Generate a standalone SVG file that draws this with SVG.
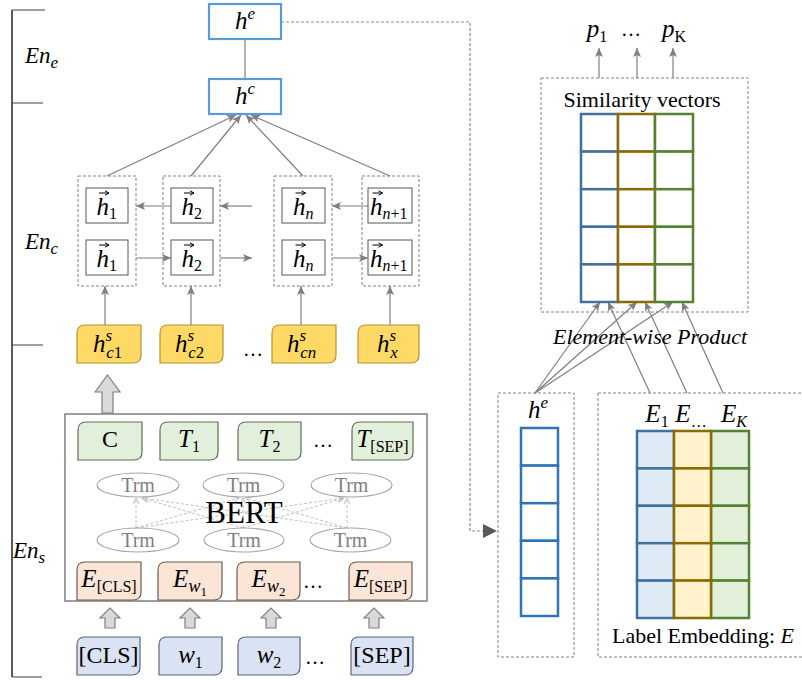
<svg xmlns="http://www.w3.org/2000/svg" width="802" height="680" viewBox="0 0 802 680">
<style>
text{font-family:"Liberation Serif","Times New Roman",serif;fill:#000}
.mi{font-style:italic;font-size:25px}
.m24{font-style:italic;font-size:25px}
.r24{font-size:24px}
.sub{font-size:16px}
.subr{font-size:16px;font-style:normal}
.trm{font-size:20px;fill:#808080}
.dbox{fill:none;stroke:#808080;stroke-width:1;stroke-dasharray:3,2}
.vbox{fill:#fff;stroke:#5B9BD5;stroke-width:2.2}
.ibox{fill:#fff;stroke:#595959;stroke-width:1}
.hs{fill:#FFD966;stroke:#B8922E;stroke-width:1.2}
.gr{fill:#E2EFDA;stroke:#5E6E55;stroke-width:1.2}
.or{fill:#FBE5D6;stroke:#6E5A50;stroke-width:1.2}
.bl{fill:#DAE3F3;stroke:#5A6478;stroke-width:1.2}
.ell{fill:#fff;stroke:#A6A6A6;stroke-width:1.2}
.conn{fill:none;stroke:#7F7F7F;stroke-width:1.2}
.tl{fill:none;stroke:#C0C0C0;stroke-width:1;stroke-dasharray:3,2}
.blk{fill:#D9D9D9;stroke:#7F7F7F;stroke-width:1.2}
.cb{stroke:#2E75B6;stroke-width:2.5}
.cg{stroke:#8B6B00;stroke-width:2.5}
.cn{stroke:#548235;stroke-width:2.5}
.cbl{stroke:#41719C;stroke-width:2.5}
</style>
<defs>
<marker id="ag" markerWidth="9" markerHeight="8" refX="9" refY="4" orient="auto" markerUnits="userSpaceOnUse"><path d="M0,0 L9,4 L0,8 L2,4 z" fill="#7F7F7F"/></marker>
<marker id="al" markerWidth="7" markerHeight="7" refX="6" refY="3.5" orient="auto" markerUnits="userSpaceOnUse"><path d="M0,0.5 L6,3.5 L0,6.5" fill="none" stroke="#C0C0C0" stroke-width="1"/></marker>
<marker id="ad" markerWidth="14" markerHeight="14" refX="14" refY="7" orient="auto" markerUnits="userSpaceOnUse"><path d="M0,0 L14,7 L0,14 z" fill="#595959"/></marker>
<path id="acc" d="M0,3 H10 M6,0.8 L10,3 L6,5.2" fill="none" stroke="#000" stroke-width="1"/>
<path id="upS" d="M-10,10 L0,0 L10,10 L5,10 L5,20 L-5,20 L-5,10 Z"/>
</defs>

<g id="scale">
<path d="M12,10 V677" stroke="#000" stroke-width="1.3" fill="none"/>
<path d="M12,10 H45 M12,103 H43 M12,345 H43 M12,677 H42" stroke="#404040" stroke-width="1.2" fill="none"/>
<text x="25" y="63" font-style="italic" font-size="23">En<tspan font-size="17" dy="5">e</tspan></text>
<text x="25" y="249" font-style="italic" font-size="23">En<tspan font-size="17" dy="5">c</tspan></text>
<text x="13" y="558" font-style="italic" font-size="23">En<tspan font-size="17" dy="5">s</tspan></text>
</g>

<g id="connectors">
<path class="conn" d="M245,39 V79"/>
<path class="conn" d="M107,176 L236,115" marker-end="url(#ag)"/>
<path class="conn" d="M191,176 L241,115" marker-end="url(#ag)"/>
<path class="conn" d="M303,176 L246,115" marker-end="url(#ag)"/>
<path class="conn" d="M390,176 L251,115" marker-end="url(#ag)"/>
<path class="conn" d="M171,206 H136" marker-end="url(#ag)"/>
<path class="conn" d="M252,206 H220" marker-end="url(#ag)"/>
<path class="conn" d="M368,206 H332" marker-end="url(#ag)"/>
<path class="conn" d="M136,258 H171" marker-end="url(#ag)"/>
<path class="conn" d="M220,258 H252" marker-end="url(#ag)"/>
<path class="conn" d="M332,258 H368" marker-end="url(#ag)"/>
<path class="conn" d="M105,325 V286" marker-end="url(#ag)"/>
<path class="conn" d="M191,325 V286" marker-end="url(#ag)"/>
<path class="conn" d="M301,325 V286" marker-end="url(#ag)"/>
<path class="conn" d="M390,325 V286" marker-end="url(#ag)"/>
<path d="M281,22 H470 V531 H497" fill="none" stroke="#8C8C8C" stroke-width="1.2" stroke-dasharray="3,2" marker-end="url(#ad)"/>
<path class="conn" d="M599,78 V48" marker-end="url(#ag)"/>
<path class="conn" d="M637,78 V48" marker-end="url(#ag)"/>
<path class="conn" d="M673,78 V48" marker-end="url(#ag)"/>
<path class="conn" stroke-width="1" d="M535,393 L600,302" marker-end="url(#ag)"/>
<path class="conn" stroke-width="1" d="M535,393 L637,302" marker-end="url(#ag)"/>
<path class="conn" stroke-width="1" d="M535,393 L673,302" marker-end="url(#ag)"/>
<path class="conn" stroke-width="1" d="M650,393 L608,302" marker-end="url(#ag)"/>
<path class="conn" stroke-width="1" d="M687,393 L645,302" marker-end="url(#ag)"/>
<path class="conn" stroke-width="1" d="M723,393 L682,302" marker-end="url(#ag)"/>
</g>

<g id="he"><rect class="vbox" x="209" y="4" width="72" height="35"/><text x="245" y="29" text-anchor="middle" class="m24">h<tspan font-size="17" dy="-10">e</tspan></text></g>
<g id="hc"><rect class="vbox" x="209" y="79" width="72" height="35"/><text x="245" y="104" text-anchor="middle" class="m24">h<tspan font-size="17" dy="-10">c</tspan></text></g>

<g id="lstm1">
<rect class="dbox" x="78" y="176" width="58" height="110"/>
<rect class="ibox" x="86" y="188" width="42" height="35"/><rect class="ibox" x="86" y="240" width="42" height="35"/>
<text x="96.5" y="215" class="mi">h<tspan class="sub" font-style="normal" dy="4">1</tspan></text><use href="#acc" x="99" y="190"/>
<text x="96.5" y="267" class="mi">h<tspan class="sub" font-style="normal" dy="4">1</tspan></text><use href="#acc" x="99" y="242"/>
</g>
<g id="lstm2">
<rect class="dbox" x="163" y="176" width="57" height="110"/>
<rect class="ibox" x="171" y="188" width="42" height="35"/><rect class="ibox" x="171" y="240" width="42" height="35"/>
<text x="181.5" y="215" class="mi">h<tspan class="sub" font-style="normal" dy="4">2</tspan></text><use href="#acc" x="184" y="190"/>
<text x="181.5" y="267" class="mi">h<tspan class="sub" font-style="normal" dy="4">2</tspan></text><use href="#acc" x="184" y="242"/>
</g>
<g id="lstm3">
<rect class="dbox" x="274" y="176" width="58" height="110"/>
<rect class="ibox" x="282" y="188" width="43" height="35"/><rect class="ibox" x="282" y="240" width="43" height="35"/>
<text x="293" y="215" class="mi">h<tspan class="sub" dy="4">n</tspan></text><use href="#acc" x="295.5" y="190"/>
<text x="293" y="267" class="mi">h<tspan class="sub" dy="4">n</tspan></text><use href="#acc" x="295.5" y="242"/>
</g>
<g id="lstm4">
<rect class="dbox" x="362" y="176" width="57" height="110"/>
<rect class="ibox" x="368" y="188" width="44" height="35"/><rect class="ibox" x="368" y="240" width="44" height="35"/>
<text x="370" y="215" class="mi">h<tspan class="sub" dy="4">n<tspan font-style="normal">+1</tspan></tspan></text><use href="#acc" x="372.5" y="190"/>
<text x="370" y="267" class="mi">h<tspan class="sub" dy="4">n<tspan font-style="normal">+1</tspan></tspan></text><use href="#acc" x="372.5" y="242"/>
</g>

<g id="hs1"><path class="hs" d="M85,325 H141 V355 Q141,363 133,363 H77 V333 Q77,325 85,325 Z"/><text x="93" y="352" class="m24" font-size="27">h<tspan font-size="17" dy="-11">s</tspan><tspan font-size="17" dx="-6" dy="17">c<tspan font-style="normal">1</tspan></tspan></text></g>
<g id="hs2"><path class="hs" d="M168,325 H223 V355 Q223,363 215,363 H160 V333 Q160,325 168,325 Z"/><text x="175" y="352" class="m24" font-size="27">h<tspan font-size="17" dy="-11">s</tspan><tspan font-size="17" dx="-6" dy="17">c<tspan font-style="normal">2</tspan></tspan></text></g>
<g id="hs3"><path class="hs" d="M280,325 H336 V355 Q336,363 328,363 H272 V333 Q272,325 280,325 Z"/><text x="287" y="352" class="m24" font-size="27">h<tspan font-size="17" dy="-11">s</tspan><tspan font-size="17" dx="-6" dy="17">cn</tspan></text></g>
<g id="hs4"><path class="hs" d="M366,325 H419 V355 Q419,363 411,363 H358 V333 Q358,325 366,325 Z"/><text x="377" y="352" class="m24" font-size="27">h<tspan font-size="17" dy="-11">s</tspan><tspan font-size="17" dx="-6" dy="17">x</tspan></text></g>
<text x="253" y="356" text-anchor="middle" font-size="20">…</text>

<g id="uparrow"><path class="blk" d="M95,392 L107.5,375 L120,392 L113,392 L113,413 L102,413 L102,392 Z"/></g>

<g id="bert">
<rect x="65" y="414" width="362" height="187" fill="#fff" stroke="#7F7F7F" stroke-width="1.5"/>
<g id="tr-links">
<path class="tl" d="M136,528 V498" marker-end="url(#al)"/>
<path class="tl" d="M136,528 L239,498" marker-end="url(#al)"/>
<path class="tl" d="M136,528 L343,498" marker-end="url(#al)"/>
<path class="tl" d="M243,528 L142,498" marker-end="url(#al)"/>
<path class="tl" d="M243,528 V498" marker-end="url(#al)"/>
<path class="tl" d="M243,528 L344,498" marker-end="url(#al)"/>
<path class="tl" d="M347,528 L143,498" marker-end="url(#al)"/>
<path class="tl" d="M347,528 L246,498" marker-end="url(#al)"/>
<path class="tl" d="M347,528 V498" marker-end="url(#al)"/>
</g>
<ellipse class="ell" cx="138" cy="485" rx="41" ry="12"/><text class="trm" x="138" y="492" text-anchor="middle">Trm</text>
<ellipse class="ell" cx="243.5" cy="485" rx="40.5" ry="12"/><text class="trm" x="243.5" y="492" text-anchor="middle">Trm</text>
<ellipse class="ell" cx="351.5" cy="485" rx="40.5" ry="12"/><text class="trm" x="351.5" y="492" text-anchor="middle">Trm</text>
<ellipse class="ell" cx="138" cy="540" rx="41" ry="12"/><text class="trm" x="138" y="547" text-anchor="middle">Trm</text>
<ellipse class="ell" cx="244" cy="540" rx="40" ry="12"/><text class="trm" x="244" y="547" text-anchor="middle">Trm</text>
<ellipse class="ell" cx="350.5" cy="540" rx="40.5" ry="12"/><text class="trm" x="350.5" y="547" text-anchor="middle">Trm</text>
<text x="244" y="523" text-anchor="middle" font-size="31">BERT</text>
</g>

<g id="tC"><path class="gr" d="M86,422 H142 V452 Q142,460 134,460 H78 V430 Q78,422 86,422 Z"/><text x="110" y="447" text-anchor="middle" class="r24">C</text></g>
<g id="tT1"><path class="gr" d="M168,422 H218 V452 Q218,460 210,460 H160 V430 Q160,422 168,422 Z"/><text x="189" y="447" text-anchor="middle" class="m24">T<tspan class="subr" dy="5">1</tspan></text></g>
<g id="tT2"><path class="gr" d="M246,422 H301 V452 Q301,460 293,460 H238 V430 Q238,422 246,422 Z"/><text x="269.5" y="447" text-anchor="middle" class="m24">T<tspan class="subr" dy="5">2</tspan></text></g>
<g id="tTsep"><path class="gr" d="M360,422 H413 V452 Q413,460 405,460 H352 V430 Q352,422 360,422 Z"/><text x="382.5" y="447" text-anchor="middle" class="m24">T<tspan class="subr" font-size="16" dy="5">[SEP]</tspan></text></g>
<text x="323" y="447" text-anchor="middle" font-size="20">…</text>

<g id="eCLS"><path class="or" d="M85,562 H141 V592 Q141,600 133,600 H77 V570 Q77,562 85,562 Z"/><text x="109" y="587" text-anchor="middle" class="m24">E<tspan class="subr" font-size="16" dy="5">[CLS]</tspan></text></g>
<g id="eW1"><path class="or" d="M166,562 H222 V592 Q222,600 214,600 H158 V570 Q158,562 166,562 Z"/><text x="190" y="587" text-anchor="middle" class="m24">E<tspan font-size="18" dy="5">w</tspan><tspan font-size="13" font-style="normal" dy="4">1</tspan></text></g>
<g id="eW2"><path class="or" d="M245,562 H300 V592 Q300,600 292,600 H237 V570 Q237,562 245,562 Z"/><text x="268.5" y="587" text-anchor="middle" class="m24">E<tspan font-size="18" dy="5">w</tspan><tspan font-size="13" font-style="normal" dy="4">2</tspan></text></g>
<g id="eSEP"><path class="or" d="M357,562 H412 V592 Q412,600 404,600 H349 V570 Q349,562 357,562 Z"/><text x="380.5" y="587" text-anchor="middle" class="m24">E<tspan class="subr" font-size="16" dy="5">[SEP]</tspan></text></g>
<text x="313" y="588" text-anchor="middle" font-size="20">…</text>

<g id="small-arrows" class="blk">
<use href="#upS" x="110" y="608"/><use href="#upS" x="190" y="608"/><use href="#upS" x="271" y="608"/><use href="#upS" x="374" y="608"/>
</g>

<g id="wCLS"><path class="bl" d="M85,637 H140 V667 Q140,675 132,675 H77 V645 Q77,637 85,637 Z"/><text x="108.5" y="663" text-anchor="middle" class="r24">[CLS]</text></g>
<g id="w1"><path class="bl" d="M167,637 H222 V667 Q222,675 214,675 H159 V645 Q159,637 167,637 Z"/><text x="190.5" y="663" text-anchor="middle" class="m24">w<tspan class="subr" dy="5">1</tspan></text></g>
<g id="w2"><path class="bl" d="M246,637 H300 V667 Q300,675 292,675 H238 V645 Q238,637 246,637 Z"/><text x="269" y="663" text-anchor="middle" class="m24">w<tspan class="subr" dy="5">2</tspan></text></g>
<g id="wSEP"><path class="bl" d="M359,637 H413 V667 Q413,675 405,675 H351 V645 Q351,637 359,637 Z"/><text x="382" y="663" text-anchor="middle" class="r24">[SEP]</text></g>
<text x="315" y="664" text-anchor="middle" font-size="20">…</text>

<g id="outputs">
<text x="597" y="37" text-anchor="middle" class="m24">p<tspan class="subr" dy="5">1</tspan></text>
<text x="631" y="36" text-anchor="middle" font-size="20">…</text>
<text x="674" y="37" text-anchor="middle" class="m24">p<tspan class="subr" dy="5">K</tspan></text>
</g>

<g id="similarity">
<rect class="dbox" x="541" y="78" width="207" height="234"/>
<text x="642" y="107" text-anchor="middle" font-size="22">Similarity vectors</text>
<g fill="#fff" class="cbl">
<rect x="581" y="114" width="37" height="37.6"/><rect x="581" y="151.6" width="37" height="37.6"/><rect x="581" y="189.2" width="37" height="37.6"/><rect x="581" y="226.8" width="37" height="37.6"/><rect x="581" y="264.4" width="37" height="37.6"/>
</g>
<g fill="#fff" class="cg">
<rect x="618" y="114" width="37" height="37.6"/><rect x="618" y="151.6" width="37" height="37.6"/><rect x="618" y="189.2" width="37" height="37.6"/><rect x="618" y="226.8" width="37" height="37.6"/><rect x="618" y="264.4" width="37" height="37.6"/>
</g>
<g fill="#fff" class="cn">
<rect x="655" y="114" width="38" height="37.6"/><rect x="655" y="151.6" width="38" height="37.6"/><rect x="655" y="189.2" width="38" height="37.6"/><rect x="655" y="226.8" width="38" height="37.6"/><rect x="655" y="264.4" width="38" height="37.6"/>
</g>
</g>
<text x="650" y="344" text-anchor="middle" font-size="22" font-style="italic">Element-wise Product</text>

<g id="he-vector">
<rect class="dbox" x="498" y="393" width="76" height="264"/>
<text x="538" y="418" text-anchor="middle" class="m24">h<tspan font-size="17" dy="-10">e</tspan></text>
<g fill="#fff" class="cb">
<rect x="521" y="428" width="37" height="37.6"/><rect x="521" y="465.6" width="37" height="37.6"/><rect x="521" y="503.2" width="37" height="37.6"/><rect x="521" y="540.8" width="37" height="37.6"/><rect x="521" y="578.4" width="37" height="37.6"/>
</g>
</g>

<g id="label-embedding">
<rect class="dbox" x="598" y="393" width="210" height="264"/>
<text x="657" y="422" text-anchor="middle" class="m24">E<tspan class="subr" dy="5">1</tspan></text>
<text x="691" y="422" text-anchor="middle" class="m24">E<tspan class="subr" font-size="13" dy="5">…</tspan></text>
<text x="734" y="422" text-anchor="middle" class="m24">E<tspan font-size="16" dy="5">K</tspan></text>
<g fill="#DEEBF7" class="cbl">
<rect x="637" y="431" width="37" height="37.4"/><rect x="637" y="468.4" width="37" height="37.4"/><rect x="637" y="505.8" width="37" height="37.4"/><rect x="637" y="543.2" width="37" height="37.4"/><rect x="637" y="580.6" width="37" height="37.4"/>
</g>
<g fill="#E2F0D9" class="cn">
<rect x="711" y="431" width="38" height="37.4"/><rect x="711" y="468.4" width="38" height="37.4"/><rect x="711" y="505.8" width="38" height="37.4"/><rect x="711" y="543.2" width="38" height="37.4"/><rect x="711" y="580.6" width="38" height="37.4"/>
</g>
<g fill="#FFF2CC" class="cg">
<rect x="674" y="431" width="37" height="37.4"/><rect x="674" y="468.4" width="37" height="37.4"/><rect x="674" y="505.8" width="37" height="37.4"/><rect x="674" y="543.2" width="37" height="37.4"/><rect x="674" y="580.6" width="37" height="37.4"/>
</g>
<text x="703" y="643" text-anchor="middle" font-size="22">Label Embedding: <tspan font-style="italic">E</tspan></text>
</g>
</svg>
